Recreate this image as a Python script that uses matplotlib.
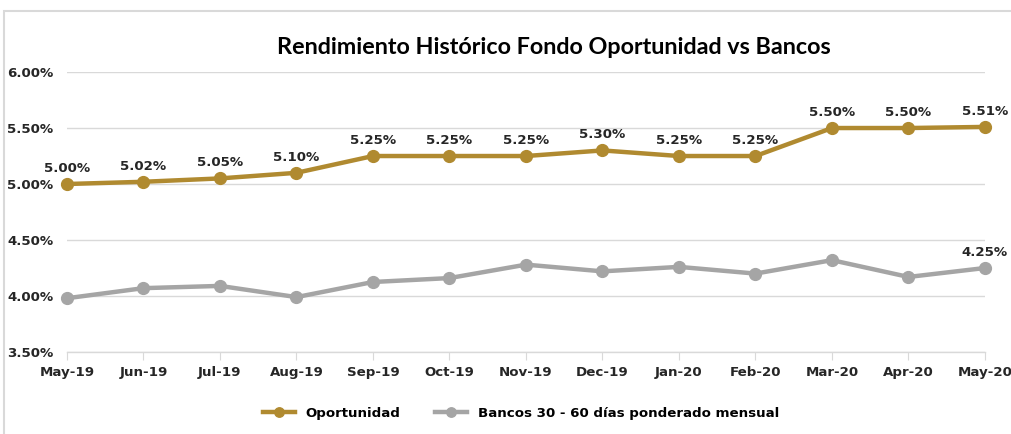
import matplotlib
matplotlib.use("Agg")
import matplotlib.pyplot as plt
from matplotlib.patches import Rectangle
from matplotlib.ticker import FuncFormatter

plt.rcParams["font.family"] = ["DejaVu Sans"]

months = ["May-19", "Jun-19", "Jul-19", "Aug-19", "Sep-19", "Oct-19", "Nov-19",
          "Dec-19", "Jan-20", "Feb-20", "Mar-20", "Apr-20", "May-20"]
oportunidad = [5.00, 5.02, 5.05, 5.10, 5.25, 5.25, 5.25, 5.30, 5.25, 5.25, 5.50, 5.50, 5.51]
bancos = [3.98, 4.07, 4.09, 3.99, 4.125, 4.16, 4.28, 4.22, 4.26, 4.20, 4.32, 4.17, 4.25]
yticks = [3.5, 4.0, 4.5, 5.0, 5.5, 6.0]
title = "Rendimiento Histórico Fondo Oportunidad vs Bancos"
label_op = "Oportunidad"
label_bc = "Bancos 30 - 60 días ponderado mensual"

gold = "#B08A30"
gray = "#A5A5A5"
fs = 9.6

fig = plt.figure(figsize=(10.12, 4.34), dpi=100)
fig.patches.append(Rectangle((0.004, -0.02), 1.2, 0.995, transform=fig.transFigure,
                             fill=False, edgecolor="#D9D9D9", linewidth=1.5))
ax = fig.add_axes([0.0662, 0.189, 0.9071, 0.645])
x = list(range(len(months)))
ax.plot(x, oportunidad, color=gold, lw=3.2, marker="o", ms=8.5, label=label_op, zorder=3)
ax.plot(x, bancos, color=gray, lw=3.2, marker="o", ms=8.5, label=label_bc, zorder=3)

for xi, v in zip(x, oportunidad):
    ax.annotate(f"{v:.2f}%", (xi, v), xytext=(0, 6.5), textcoords="offset points",
                ha="center", va="bottom", fontsize=fs, fontweight="bold", color="#262626")
ax.annotate(f"{bancos[-1]:.2f}%", (x[-1], bancos[-1]), xytext=(0, 6.5), textcoords="offset points",
            ha="center", va="bottom", fontsize=fs, fontweight="bold", color="#262626")

ax.set_ylim(3.5, 6.0)
ax.set_yticks(yticks)
ax.yaxis.set_major_formatter(FuncFormatter(lambda v, p: f"{v:.2f}%"))
ax.set_xlim(0, len(months) - 1)
ax.set_xticks(x)
ax.set_xticklabels(months)
ax.grid(axis="y", color="#D9D9D9", lw=1)
ax.set_axisbelow(True)
for s in ["top", "right", "left"]:
    ax.spines[s].set_visible(False)
ax.spines["bottom"].set_color("#D9D9D9")
ax.spines["bottom"].set_linewidth(1)
ax.tick_params(axis="y", length=0, pad=10, labelsize=fs)
ax.tick_params(axis="x", length=6, color="#D9D9D9", pad=4, labelsize=fs)
for lab in ax.get_xticklabels() + ax.get_yticklabels():
    lab.set_fontweight("bold")
    lab.set_color("#262626")
for ln in ax.lines:
    ln.set_clip_on(False)

fig.text(0.547, 0.89, title, ha="center", va="center", fontsize=16.8, fontweight="bold",
         family="Lato", color="#000000")

fig.legend(loc="center", bbox_to_anchor=(0.515, 0.048), ncol=2, frameon=False,
           prop={"weight": "bold", "size": fs, "family": "DejaVu Sans"},
           handlelength=2.4, columnspacing=2.6, markerscale=0.8)

fig.savefig("out.png", dpi=100)
